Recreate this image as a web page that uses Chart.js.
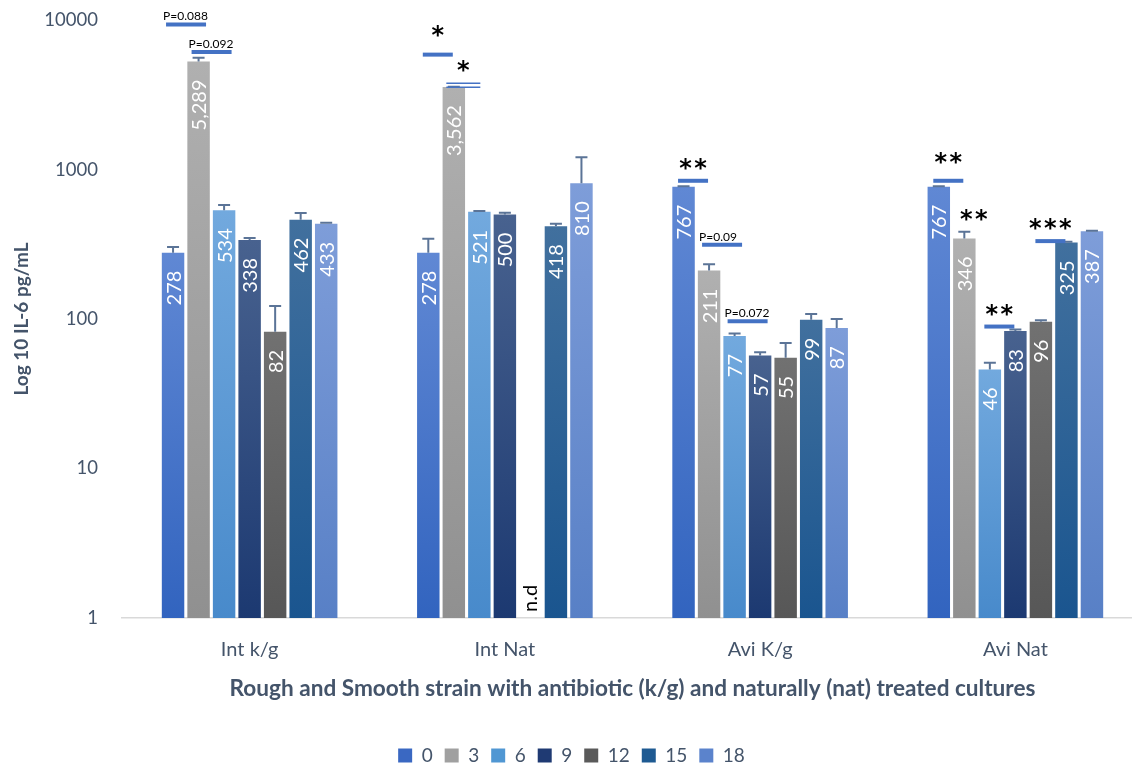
<!DOCTYPE html>
<html>
<head>
<meta charset="utf-8">
<script src="https://cdn.jsdelivr.net/npm/chart.js@4"></script>
<style>
  html, body { margin: 0; padding: 0; background: #fff; overflow: hidden; }
  #wrap { position: relative; width: 1150px; height: 767px; }
</style>
</head>
<body>
<div id="wrap"><canvas id="il6Chart"></canvas></div>
<script>
// culture groups and sampling hours
const groups = ['Int k/g', 'Int Nat', 'Avi K/g', 'Avi Nat'];
const hours = ['0', '3', '6', '9', '12', '15', '18'];

// IL-6 (pg/mL) per hour, one entry per group (null = not detected)
const h0 = [278, 278, 767, 767];
const h3 = [5289, 3562, 211, 346];
const h6 = [534, 521, 77, 46];
const h9 = [338, 500, 57, 83];
const h12 = [82, null, 55, 96];
const h15 = [462, 418, 99, 325];
const h18 = [433, 810, 87, 387];

// upper error (pg/mL)
const e0 = [25, 66, 5, 5];
const e3 = [300, 20, 21, 38];
const e6 = [45, 7, 3, 5];
const e9 = [10, 14, 3, 2];
const e12 = [40, null, 14, 2];
const e15 = [50, 15, 9, 4];
const e18 = [8, 400, 13, 3];

const values = [h0, h3, h6, h9, h12, h15, h18];
const errors = [e0, e3, e6, e9, e12, e15, e18];

// significance marks: group, hour index, value level, label
const sigGroup = [0, 0, 1, 1, 2, 2, 2, 3, 3, 3, 3];
const sigHour = [0, 1, 0, 1, 0, 1, 2, 0, 1, 2, 4];
const sigLevel = [9355, 6110, 5875, 3777, 841, 314, 96.6, 841, 384, 89, 332];
const sigText = ['P=0.088', 'P=0.092', '*', '*', '**', 'P=0.09', 'P=0.072', '**', '**', '**', '***'];

// gradient colours per hour: [top, bottom, legend]
const palette = [
  ['#6088d4', '#3264bf', '#3a68c2'],
  ['#b0b0b0', '#909090', '#a0a0a0'],
  ['#72a9de', '#488acb', '#5097d3'],
  ['#48628f', '#1c3971', '#1f3a73'],
  ['#717171', '#575757', '#5a5a5a'],
  ['#41709e', '#1a558f', '#1e5a92'],
  ['#7e9dd9', '#5880c6', '#5b83cc'],
];

const textColor = '#44546A';
const font = 'Lato, "Open Sans", sans-serif';

function barFill(ctx, i) {
  const chart = ctx.chart;
  const area = chart.chartArea;
  const v = ctx.raw;
  if (!area || ctx.type !== 'data' || v == null) return palette[i][1];
  const y = chart.scales.y;
  const top = y.getPixelForValue(v);
  const g = chart.ctx.createLinearGradient(0, top, 0, area.bottom);
  g.addColorStop(0, palette[i][0]);
  g.addColorStop(1, palette[i][1]);
  return g;
}

const datasets = hours.map((h, i) => ({
  label: h,
  data: values[i],
  backgroundColor: (ctx) => barFill(ctx, i),
  borderWidth: 0,
  barPercentage: 0.88,
  categoryPercentage: 0.70,
}));

function drawStars(c, text, cx, cy) {
  c.font = 'bold 24px "DejaVu Sans", sans-serif';
  const m = c.measureText('*');
  const mid = (m.actualBoundingBoxAscent - m.actualBoundingBoxDescent) / 2;
  const n = text.length;
  const step = 15;
  c.textAlign = 'center';
  c.textBaseline = 'alphabetic';
  for (let k = 0; k < n; k++) {
    c.fillText('*', cx + (k - (n - 1) / 2) * step, cy + mid);
  }
}

const barExtras = {
  id: 'barExtras',
  afterDatasetsDraw(chart) {
    const c = chart.ctx;
    const y = chart.scales.y;
    const base = y.getPixelForValue(1);

    // error bars
    c.save();
    c.strokeStyle = '#5B7497';
    c.lineWidth = 2;
    values.forEach((series, i) => {
      const meta = chart.getDatasetMeta(i);
      series.forEach((v, j) => {
        if (v == null || errors[i][j] == null) return;
        const bar = meta.data[j];
        const yTop = y.getPixelForValue(v + errors[i][j]);
        c.beginPath();
        c.moveTo(bar.x, bar.y);
        c.lineTo(bar.x, yTop);
        c.moveTo(bar.x - 6, yTop);
        c.lineTo(bar.x + 6, yTop);
        c.stroke();
      });
    });
    c.restore();

    // value labels, rotated inside the bar top
    c.save();
    c.font = '20px ' + font;
    c.textBaseline = 'middle';
    values.forEach((series, i) => {
      const meta = chart.getDatasetMeta(i);
      series.forEach((v, j) => {
        const bar = meta.data[j];
        c.save();
        if (v == null) {
          c.fillStyle = '#000';
          c.translate(bar.x, base - 6);
          c.rotate(-Math.PI / 2);
          c.textAlign = 'left';
          c.fillText('n.d', 0, 0);
        } else {
          c.fillStyle = '#fff';
          c.translate(bar.x + 1, bar.y + 18);
          c.rotate(-Math.PI / 2);
          c.textAlign = 'right';
          c.fillText(v.toLocaleString('en-US'), 0, 0);
        }
        c.restore();
      });
    });
    c.restore();

    // significance marks
    c.save();
    c.strokeStyle = '#4472C4';
    c.fillStyle = '#000';
    sigText.forEach((t, k) => {
      const bar = chart.getDatasetMeta(sigHour[k]).data[sigGroup[k]];
      const ly = y.getPixelForValue(sigLevel[k]);
      const isP = t.startsWith('P');
      const w = isP ? 40 : 30;
      const cx = bar.x + (isP ? 13 : 9.5);
      const hasLine = !(sigGroup[k] === 3 && sigHour[k] === 1);
      if (hasLine) {
        if (sigGroup[k] === 1 && sigHour[k] === 1) {
          c.lineWidth = 1.5;
          c.beginPath();
          c.moveTo(cx - 17, ly); c.lineTo(cx + 17, ly);
          c.moveTo(cx - 17, ly + 4); c.lineTo(cx + 17, ly + 4);
          c.stroke();
        } else {
          c.lineWidth = 4;
          c.beginPath();
          c.moveTo(cx - w / 2, ly);
          c.lineTo(cx + w / 2, ly);
          c.stroke();
        }
      }
      if (isP) {
        c.font = '12px ' + font;
        c.textAlign = 'left';
        c.textBaseline = 'middle';
        c.fillText(t, cx - w / 2 - 3, ly - 8);
      } else {
        drawStars(c, t, cx, ly - 17);
      }
    });
    c.restore();
  },
};

new Chart(document.getElementById('il6Chart'), {
  type: 'bar',
  data: { labels: groups, datasets: datasets },
  plugins: [barExtras],
  options: {
    responsive: true,
    maintainAspectRatio: false,
    animation: false,
    layout: { padding: { top: 0, left: 0, right: 7, bottom: -8 } },
    scales: {
      x: {
        grid: { display: false, drawTicks: false },
        border: { color: '#D9D9D9', width: 1.5 },
        ticks: { color: textColor, font: { family: font, size: 20 }, padding: 20 },
        title: {
          display: true,
          text: 'Rough and Smooth strain with antibiotic (k/g) and naturally (nat) treated cultures',
          color: textColor,
          font: { family: font, size: 22.6, weight: 'bold' },
          padding: { top: -7, bottom: 32 },
        },
      },
      y: {
        type: 'logarithmic',
        min: 1,
        max: 10000,
        grid: { display: false, drawTicks: true, tickLength: 15 },
        border: { display: false },
        afterFit: (axis) => { axis.width = 122; },
        ticks: {
          color: textColor,
          font: { family: font, size: 18.5 },
          padding: 9,
          callback: (v) => ([1, 10, 100, 1000, 10000].includes(v) ? String(v) : null),
        },
        afterBuildTicks: (axis) => {
          axis.ticks = [1, 10, 100, 1000, 10000].map((v) => ({ value: v }));
        },
        title: {
          display: true,
          text: 'Log 10 IL-6 pg/mL',
          color: textColor,
          font: { family: font, size: 19, weight: 'bold' },
          padding: { top: 10, bottom: 4 },
        },
      },
    },
    plugins: {
      legend: {
        position: 'bottom',
        labels: {
          color: textColor,
          font: { family: font, size: 19 },
          boxWidth: 14,
          boxHeight: 14,
          padding: 12,
          generateLabels: (chart) =>
            Chart.defaults.plugins.legend.labels.generateLabels(chart).map((item, i) => {
              item.fillStyle = palette[i][2];
              item.strokeStyle = palette[i][2];
              item.lineWidth = 0;
              return item;
            }),
        },
        onClick: () => {},
      },
      tooltip: { enabled: false },
    },
  },
});
</script>
</body>
</html>
